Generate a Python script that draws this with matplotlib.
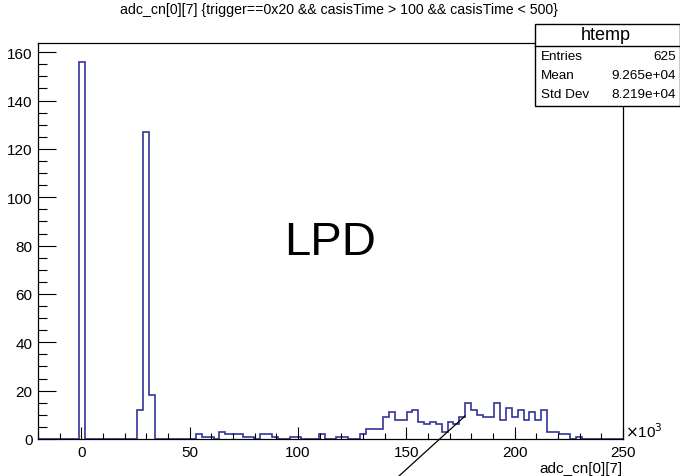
import numpy as np
import matplotlib
matplotlib.use("Agg")
import matplotlib.pyplot as plt
from matplotlib.lines import Line2D
from matplotlib.patches import Rectangle
from matplotlib.ticker import MultipleLocator

plt.rcParams['font.family'] = ['Liberation Sans', 'DejaVu Sans']

# ---- data (x in units of 10^3) ----
x_min, x_max, n_bins = -20.0, 250.0, 100
counts = [0]*100
peaks = {7: 156, 17: 12, 18: 127, 19: 18}
low_tail = {27: 2, 28: 1, 29: 1, 31: 3, 32: 2, 33: 2, 34: 2, 35: 1, 36: 1,
            38: 2, 39: 2, 40: 1, 43: 1, 44: 1, 48: 2, 51: 1, 52: 1, 55: 2}
high_tail = [4, 4, 4, 9, 11, 8, 8, 11, 12, 7, 6, 7, 6, 3, 7, 6, 9, 15, 12,
             10, 9, 9, 15, 8, 13, 9, 12, 8, 11, 8, 12, 3, 3, 2, 2, 0, 1]  # bins 56..92
for k, v in peaks.items():
    counts[k] = v
for k, v in low_tail.items():
    counts[k] = v
for j, v in enumerate(high_tail):
    counts[56 + j] = v

title = "adc_cn[0][7] {trigger==0x20 && casisTime > 100 && casisTime < 500}"
stats_name = "htemp"
stats_rows = [("Entries", "625"), ("Mean", "9.265e+04"), ("Std Dev", "8.219e+04")]
x_label = "adc_cn[0][7]"
annotation = "LPD"

W, H = 680, 477
fig = plt.figure(figsize=(W/100, H/100), dpi=100)
ax = fig.add_axes([38/W, 1-440/H, 585/W, 396/H])

edges = np.linspace(x_min, x_max, n_bins + 1)
ax.stairs(counts, edges, color='#333399', linewidth=1.2, baseline=0)

ax.set_xlim(x_min, x_max)
ax.set_ylim(0, 163.8)
ax.xaxis.set_major_locator(MultipleLocator(50))
ax.xaxis.set_minor_locator(MultipleLocator(10))
ax.yaxis.set_major_locator(MultipleLocator(20))
ax.yaxis.set_minor_locator(MultipleLocator(5))
ax.tick_params(axis='x', which='major', direction='in', length=8.6, width=0.8,
               labelsize=11, pad=4, top=False)
ax.tick_params(axis='x', which='minor', direction='in', length=4.3, width=0.8, top=False)
ax.tick_params(axis='y', which='major', direction='in', length=12.6, width=0.8,
               labelsize=11, pad=4, right=False)
ax.tick_params(axis='y', which='minor', direction='in', length=6.3, width=0.8, right=False)
for s in ax.spines.values():
    s.set_linewidth(0.9)

def fx(px):
    return px / W

def fy(py):
    return 1 - py / H

fig.text(fx(339), fy(10), title, ha='center', va='center', fontsize=10.2)
fig.text(fx(330), fy(243), annotation, ha='center', va='center', fontsize=34)
fig.text(fx(623), fy(469), x_label, ha='right', va='center', fontsize=11)
fig.text(fx(625), fy(432), r"$\times$10$^{3}$", ha='left', va='center', fontsize=11)

# stats box
box = Rectangle((fx(535), fy(107)), fx(680) - fx(535), fy(25) - fy(107),
                transform=fig.transFigure, facecolor='white', edgecolor='black',
                linewidth=1.0, zorder=5)
fig.add_artist(box)
fig.add_artist(Line2D([fx(535), fx(680)], [fy(47), fy(47)], transform=fig.transFigure,
                      color='black', linewidth=1.0, zorder=6))
fig.text(fx(606), fy(36), stats_name, ha='center', va='center', fontsize=13, zorder=7)
row_y = [57, 76, 95]
for (lab, val), yy in zip(stats_rows, row_y):
    fig.text(fx(541), fy(yy), lab, ha='left', va='center', fontsize=9.7, zorder=7)
    fig.text(fx(676), fy(yy), val, ha='right', va='center', fontsize=9.7, zorder=7)

# diagonal annotation line
fig.add_artist(Line2D([fx(399), fx(465)], [fy(477), fy(417)], transform=fig.transFigure,
                      color='black', linewidth=0.9, zorder=6))

fig.savefig("out.png", dpi=100)
